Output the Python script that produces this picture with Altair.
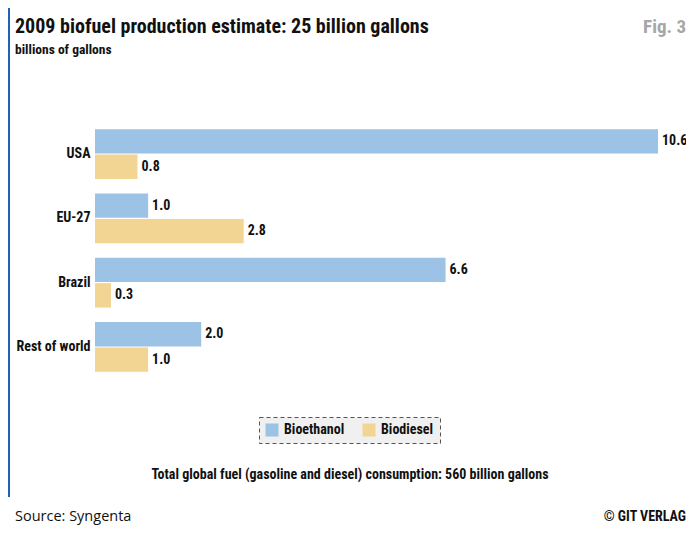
import altair as alt
import pandas as pd

countries = ["USA", "EU-27", "Brazil", "Rest of world"]
fuels = ["Bioethanol", "Biodiesel"]
bioethanol = [10.6, 1.0, 6.6, 2.0]
biodiesel = [0.8, 2.8, 0.3, 1.0]

title_text = "2009 biofuel production estimate: 25 billion gallons"
subtitle_text = "billions of gallons"
fig_text = "Fig. 3"
footer_text = "Total global fuel (gasoline and diesel) consumption: 560 billion gallons"
source_text = "Source: Syngenta"
credit_text = "\u00a9 GIT VERLAG"

rows = []
for c, e, d in zip(countries, bioethanol, biodiesel):
    rows.append({"country": c, "fuel": "Bioethanol", "value": e})
    rows.append({"country": c, "fuel": "Biodiesel", "value": d})
df = pd.DataFrame(rows)

COND = "'Roboto Condensed', 'DejaVu Sans Condensed', sans-serif"
REG = "'Open Sans', 'Noto Sans', sans-serif"

y_enc = alt.Y(
    "country:N", sort=countries,
    scale=alt.Scale(paddingInner=0.223, paddingOuter=0.111),
    axis=alt.Axis(title=None, domain=False, ticks=False, labelPadding=5,
                  labelFontSize=14, labelFontWeight="bold", labelFont=COND,
                  labelColor="#111111"),
)
yo_enc = alt.YOffset("fuel:N", sort=fuels,
                     scale=alt.Scale(paddingInner=0.04, paddingOuter=0))
x_enc = alt.X("value:Q", scale=alt.Scale(domain=[0, 10.6], nice=False, zero=True), axis=None)

base = alt.Chart(df)

bars = base.mark_bar().encode(
    x=x_enc, y=y_enc, yOffset=yo_enc,
    color=alt.Color(
        "fuel:N",
        scale=alt.Scale(domain=fuels, range=["#9cc2e5", "#f2d593"]),
        legend=alt.Legend(
            title=None, orient="none", legendX=164, legendY=295,
            direction="horizontal", symbolType="square", symbolSize=169,
            symbolStrokeWidth=0, symbolOpacity=1, labelFontSize=14, labelFont=COND,
            labelFontWeight="bold", labelColor="#111111", labelOffset=5,
            columnPadding=17, padding=6, fillColor="#f0f0f0", strokeColor="#555555",
        ),
    ),
)

labels = base.mark_text(align="left", baseline="middle", dx=4, fontSize=14,
                        fontWeight="bold", font=COND, color="#111111").encode(
    x=x_enc, y=y_enc, yOffset=yo_enc,
    text=alt.Text("value:Q", format=".1f"),
)


def note(txt, x, y, size, weight="bold", font=COND, color="#111111", align="left",
         baseline="alphabetic"):
    return alt.Chart(pd.DataFrame({"t": [txt]})).mark_text(
        align=align, baseline=baseline, fontSize=size, fontWeight=weight,
        font=font, color=color,
    ).encode(text="t:N", x=alt.value(x), y=alt.value(y))


border = alt.Chart(pd.DataFrame({"a": [0]})).mark_rule(
    color="#1f64ad", strokeWidth=2
).encode(x=alt.value(-86), y=alt.value(-114), y2=alt.value(375))

chart = alt.layer(
    border,
    bars,
    labels,
    note(title_text, -80, -89, 20),
    note(subtitle_text, -80, -68, 13.5),
    note(fig_text, 591, -89, 19, color="#a6a6a6", align="right"),
    note(footer_text, 255, 353, 14, align="center", baseline="middle"),
    note(source_text, -80, 399, 14.5, weight="normal", font=REG),
    note(credit_text, 591, 399, 14, align="right"),
).properties(
    width=563, height=257,
    padding={"left": 87, "top": 114, "right": 28, "bottom": 146},
    autosize=alt.AutoSizeParams(type="none"),
).configure_view(strokeWidth=0).configure_legend(strokeDash=[4, 3])

chart.save("out.html", embed_options={"renderer": "svg", "actions": False})
